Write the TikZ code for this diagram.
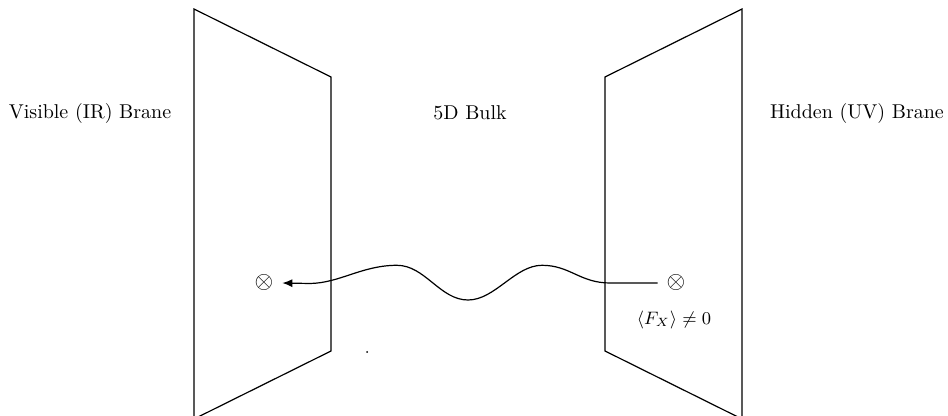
\documentclass[tikz,border=0pt]{standalone}
\usetikzlibrary{arrows.meta}
\begin{document}
\begin{tikzpicture}[x=0.5pt,y=-0.5pt,
  brane/.style={line width=0.6pt},
  wave/.style={line width=0.6pt,-{Latex[length=5pt,width=4pt]}},
  lbl/.style={inner sep=0pt},
  src/.style={inner sep=4.3pt,font=\large}]
\clip (0,0) rectangle (948,416);
\useasboundingbox (0,0) rectangle (948,416);
% branes
\draw[brane] (194,425) -- (194,9) -- (331,77) -- (331,351) -- (194,419);
\draw[brane] (742,425) -- (742,9) -- (605,77) -- (605,351) -- (742,419);
% labels
\node[lbl] (vis) at (90,114) {Visible (IR) Brane};
\node[lbl] (bulk) at (470,113) {5D Bulk};
\node[lbl] (hid) at (857,114) {Hidden (UV) Brane};
% sources
\node[src] (dst) at (264,283) {$\otimes$};
\node[src] (srcn) at (676,283) {$\otimes$};
\node[lbl,font=\small] (fx) at (674,320) {$\langle F_X\rangle\neq 0$};
% wave
\draw[wave] (srcn.west) -- (610,283)
  .. controls (580,283) and (570,265.3) .. (542,265.3)
  .. controls (515,265.3) and (495,300) .. (468,300)
  .. controls (440,300) and (425,265.3) .. (397,265.3)
  .. controls (362,265.3) and (340,283) .. (310,283.5)
  -- (dst.east);
% stray dot
\fill (367,352) circle[radius=0.5pt];
\end{tikzpicture}
\end{document}
